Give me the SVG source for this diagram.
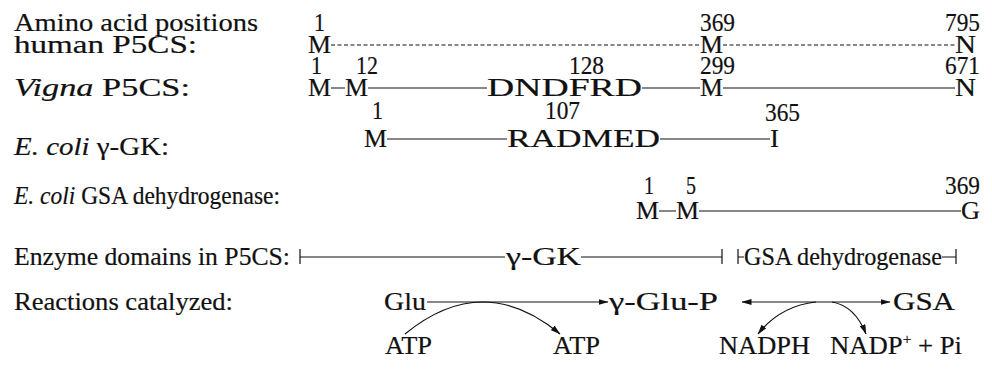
<svg xmlns="http://www.w3.org/2000/svg" width="992" height="379" viewBox="0 0 992 379">
  <style>
    text { font-family: "Liberation Serif", "Times New Roman", serif; font-size: 26px; fill: #111; stroke: #111; stroke-width: 0.2; }
    .it { font-style: italic; }
    .seq { stroke: #111; stroke-width: 1.2; fill: none; }
    .dash { stroke: #111; stroke-width: 1.1; stroke-dasharray: 4 2.5; fill: none; }
    .arr { stroke: #111; stroke-width: 1.2; fill: none; }
  </style>
  <defs>
    <marker id="head" viewBox="0 0 10 6" refX="9.5" refY="3" markerWidth="10" markerHeight="6" markerUnits="userSpaceOnUse" orient="auto-start-reverse">
      <path d="M0,0 L10,3 L0,6 Z" fill="#111"/>
    </marker>
  </defs>
  <rect width="992" height="379" fill="#fff"/>

  <!-- row labels -->
  <g id="labels">
    <text x="14" y="31" textLength="244" lengthAdjust="spacingAndGlyphs">Amino acid positions</text>
    <text x="14" y="53" textLength="183" lengthAdjust="spacingAndGlyphs">human P5CS:</text>
    <text x="14" y="96" textLength="176" lengthAdjust="spacingAndGlyphs"><tspan class="it">Vigna</tspan> P5CS:</text>
    <text x="14" y="155" textLength="155" lengthAdjust="spacingAndGlyphs"><tspan class="it">E. coli</tspan> γ-GK:</text>
    <text x="14" y="204" textLength="266" lengthAdjust="spacingAndGlyphs"><tspan class="it">E. coli</tspan> GSA dehydrogenase:</text>
    <text x="14" y="265" textLength="276" lengthAdjust="spacingAndGlyphs">Enzyme domains in P5CS:</text>
    <text x="14" y="310" textLength="219" lengthAdjust="spacingAndGlyphs">Reactions catalyzed:</text>
  </g>

  <!-- human P5CS -->
  <g id="human">
    <text x="314" y="31" textLength="11" lengthAdjust="spacingAndGlyphs">1</text>
    <text x="700" y="31" textLength="35" lengthAdjust="spacingAndGlyphs">369</text>
    <text x="945" y="31" textLength="35" lengthAdjust="spacingAndGlyphs">795</text>
    <text x="308" y="53" textLength="23" lengthAdjust="spacingAndGlyphs">M</text>
    <text x="700" y="53" textLength="23" lengthAdjust="spacingAndGlyphs">M</text>
    <text x="955" y="53" textLength="21" lengthAdjust="spacingAndGlyphs">N</text>
  </g>

  <!-- Vigna P5CS -->
  <g id="vigna">
    <text x="311" y="74" textLength="11" lengthAdjust="spacingAndGlyphs">1</text>
    <text x="356" y="74" textLength="22" lengthAdjust="spacingAndGlyphs">12</text>
    <text x="569" y="74" textLength="35" lengthAdjust="spacingAndGlyphs">128</text>
    <text x="700" y="74" textLength="35" lengthAdjust="spacingAndGlyphs">299</text>
    <text x="945" y="74" textLength="35" lengthAdjust="spacingAndGlyphs">671</text>
    <text x="308" y="96" textLength="23" lengthAdjust="spacingAndGlyphs">M</text>
    <text x="345" y="96" textLength="23" lengthAdjust="spacingAndGlyphs">M</text>
    <text x="487" y="96" textLength="155" lengthAdjust="spacingAndGlyphs">DNDFRD</text>
    <text x="700" y="96" textLength="23" lengthAdjust="spacingAndGlyphs">M</text>
    <text x="955" y="96" textLength="21" lengthAdjust="spacingAndGlyphs">N</text>
  </g>

  <!-- E. coli gamma-GK -->
  <g id="gk">
    <text x="372" y="119" textLength="11" lengthAdjust="spacingAndGlyphs">1</text>
    <text x="545" y="119" textLength="35" lengthAdjust="spacingAndGlyphs">107</text>
    <text x="765" y="121" textLength="35" lengthAdjust="spacingAndGlyphs">365</text>
    <text x="364" y="147" textLength="23" lengthAdjust="spacingAndGlyphs">M</text>
    <text x="507" y="147" textLength="153" lengthAdjust="spacingAndGlyphs">RADMED</text>
    <text x="770" y="147" textLength="9" lengthAdjust="spacingAndGlyphs">I</text>
  </g>

  <!-- E. coli GSA dehydrogenase -->
  <g id="gsa">
    <text x="644" y="194" textLength="10" lengthAdjust="spacingAndGlyphs">1</text>
    <text x="686" y="194" textLength="10" lengthAdjust="spacingAndGlyphs">5</text>
    <text x="945" y="194" textLength="35" lengthAdjust="spacingAndGlyphs">369</text>
    <text x="636" y="219" textLength="23" lengthAdjust="spacingAndGlyphs">M</text>
    <text x="676" y="219" textLength="23" lengthAdjust="spacingAndGlyphs">M</text>
    <text x="961" y="219" textLength="19" lengthAdjust="spacingAndGlyphs">G</text>
  </g>

  <!-- domain bar -->
  <g id="domains">
    <text x="506" y="265" textLength="75" lengthAdjust="spacingAndGlyphs">γ-GK</text>
    <text x="744" y="265" textLength="198" lengthAdjust="spacingAndGlyphs">GSA dehydrogenase</text>
  </g>

  <!-- reaction scheme -->
  <g id="reactions">
    <text x="384" y="310" textLength="42" lengthAdjust="spacingAndGlyphs">Glu</text>
    <text x="609" y="310" textLength="109" lengthAdjust="spacingAndGlyphs">γ-Glu-P</text>
    <text x="893" y="310" textLength="62" lengthAdjust="spacingAndGlyphs">GSA</text>
    <text x="385" y="354" textLength="47" lengthAdjust="spacingAndGlyphs">ATP</text>
    <text x="553" y="354" textLength="47" lengthAdjust="spacingAndGlyphs">ATP</text>
    <text x="719" y="354" textLength="91" lengthAdjust="spacingAndGlyphs">NADPH</text>
    <text x="830" y="354" textLength="132" lengthAdjust="spacingAndGlyphs">NADP<tspan dy="-10" font-size="15">+</tspan><tspan dy="10"> + Pi</tspan></text>
  </g>

  <g id="connectors">
    <!-- human: dashed -->
    <path class="dash" d="M331,45 H700 M723,45 H955"/>
    <!-- Vigna: solid -->
    <path class="seq" d="M331,88 H345 M368,88 H487 M642,88 H700 M723,88 H955"/>
    <!-- gamma-GK -->
    <path class="seq" d="M387,139 H507 M660,139 H770"/>
    <!-- GSA dehydrogenase -->
    <path class="seq" d="M659,211 H676 M699,211 H961"/>
    <!-- domain brackets -->
    <path class="seq" d="M300,249 V264 M300,257 H505 M581,257 H722 M722,249 V264"/>
    <path class="seq" d="M738,249 V264 M738,257 H744 M942,257 H956 M956,249 V264"/>
    <!-- reaction arrows -->
    <path class="arr" d="M427,302 H608" marker-end="url(#head)"/>
    <path class="arr" d="M742,302 H890" marker-start="url(#head)" marker-end="url(#head)"/>
    <path class="arr" d="M405,334 Q483,270 560,334" marker-end="url(#head)"/>
    <path class="arr" d="M816,302 Q780,306 758,334" marker-end="url(#head)"/>
    <path class="arr" d="M832,302 Q855,306 866,334" marker-end="url(#head)"/>
  </g>
</svg>
